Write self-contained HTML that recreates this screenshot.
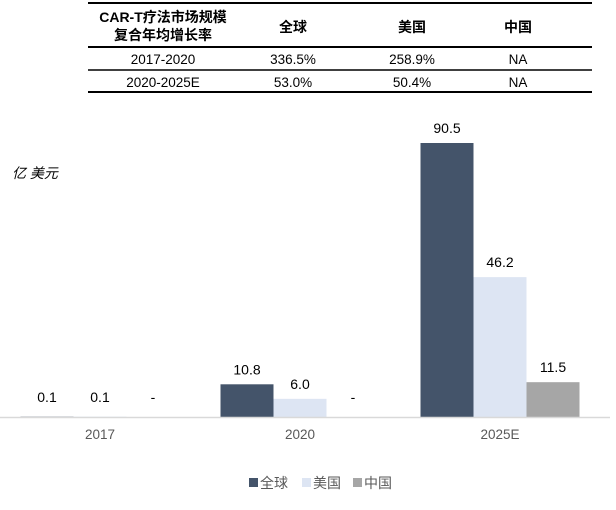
<!DOCTYPE html>
<html><head><meta charset="utf-8"><style>
body{margin:0;background:#fff;width:616px;height:505px;overflow:hidden;font-family:"Liberation Sans","Noto Sans CJK SC",sans-serif;}
svg text{font-family:"Liberation Sans","Noto Sans CJK SC",sans-serif;}
</style></head><body>
<svg width="616" height="505">
<g>
<line x1="88" x2="592" y1="3" y2="3" stroke="#000" stroke-width="2"/>
<line x1="88" x2="592" y1="47" y2="47" stroke="#000" stroke-width="2"/>
<line x1="88" x2="592" y1="70" y2="70" stroke="#000" stroke-width="1.5"/>
<line x1="88" x2="592" y1="92" y2="92" stroke="#000" stroke-width="2"/>
<text x="163" y="22" text-anchor="middle" font-size="14" font-weight="bold">CAR-T疗法市场规模</text>
<text x="163" y="40" text-anchor="middle" font-size="14" font-weight="bold">复合年均增长率</text>
<text x="293" y="32" text-anchor="middle" font-size="14" font-weight="bold">全球</text>
<text x="412" y="32" text-anchor="middle" font-size="14" font-weight="bold">美国</text>
<text x="518" y="32" text-anchor="middle" font-size="14" font-weight="bold">中国</text>
<g font-size="13.5" text-anchor="middle">
<text x="163" y="64">2017-2020</text><text x="293" y="64">336.5%</text><text x="412" y="64">258.9%</text><text x="518" y="64">NA</text>
<text x="163" y="87">2020-2025E</text><text x="293" y="87">53.0%</text><text x="412" y="87">50.4%</text><text x="518" y="87">NA</text>
</g>
</g>
<text x="12" y="178" font-size="14" font-style="italic">亿 美元</text>
<g id="plot"></g>
<line x1="0" x2="610" y1="417.5" y2="417.5" stroke="#d9d9d9" stroke-width="1.5"/>
<g font-size="14" fill="#595959">
<rect x="249" y="478" width="9" height="9" fill="#44546a"/><text x="260" y="488" fill="#595959">全球</text>
<rect x="302" y="478" width="9" height="9" fill="#dde5f3"/><text x="313" y="488" fill="#595959">美国</text>
<rect x="353" y="478" width="9" height="9" fill="#a6a6a6"/><text x="364" y="488" fill="#595959">中国</text>
</g>
</svg>
<script>
const categories=["2017","2020","2025E"];
const globalVals=[0.1,10.8,90.5];
const usVals=[0.1,6.0,46.2];
const chinaVals=[0,0,11.5];
const seriesNames=["全球","美国","中国"];
const colors=["#44546a","#dde5f3","#a6a6a6"];
const base=417, scale=274/90.5;
const y=v=>base-v*scale;
const xc=i=>100+i*200;
const g=document.getElementById('plot');
const ns="http://www.w3.org/2000/svg";
[globalVals,usVals,chinaVals].forEach((arr,s)=>{
  arr.forEach((v,i)=>{
    const x=xc(i)-79.5+s*53;
    const r=document.createElementNS(ns,'rect');
    
    
    r.setAttribute('x',x);r.setAttribute('width',53);
    r.setAttribute('y',y(v));r.setAttribute('height',v*scale);
    r.setAttribute('fill',colors[s]);g.appendChild(r);
    const t=document.createElementNS(ns,'text');
    
    
    t.setAttribute('x',x+26.5);
    t.setAttribute('y',Math.min(y(v)-10,402));
    t.setAttribute('text-anchor','middle');t.setAttribute('font-size','14');
    t.textContent=v===0?'-':v.toFixed(1);g.appendChild(t);
  });
});
categories.forEach((c,i)=>{
  const t=document.createElementNS(ns,'text');
  
  
  t.setAttribute('x',xc(i));t.setAttribute('y',439);
  t.setAttribute('text-anchor','middle');t.setAttribute('font-size','13.5');
  t.setAttribute('fill','#595959');t.textContent=c;g.appendChild(t);
});
</script>
</body></html>
